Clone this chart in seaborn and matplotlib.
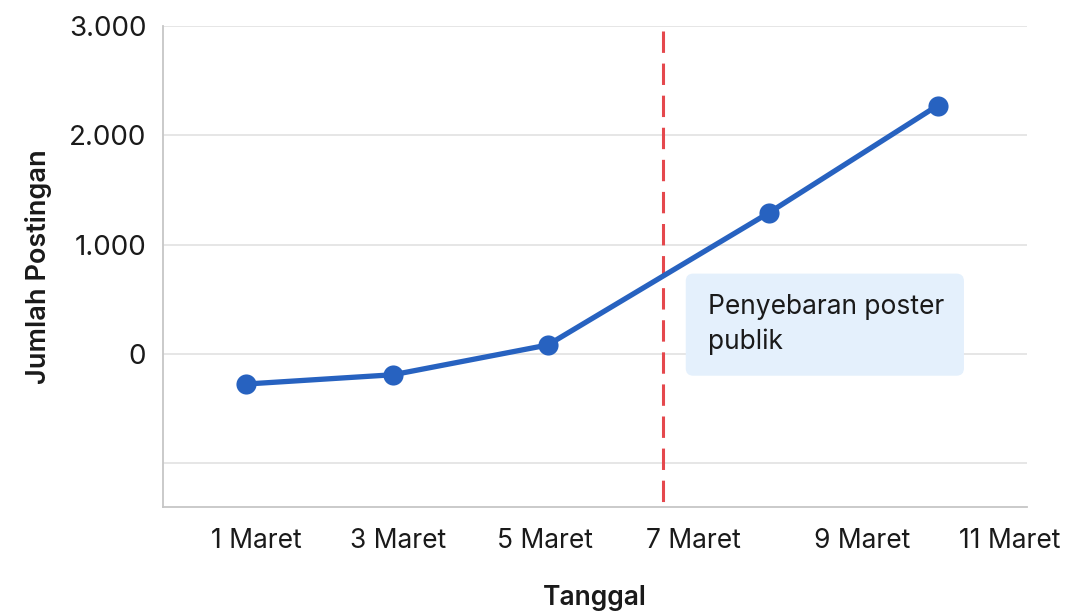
import matplotlib
matplotlib.use("Agg")
import matplotlib.pyplot as plt
import seaborn as sns
import pandas as pd
from matplotlib.patches import FancyBboxPatch

# ---- data (x positions in "day" units) ----
point_day = [0.87, 2.82, 4.87, 7.80, 10.04]
posts = [-275, -190, 82, 1290, 2272]
tick_day = [1.0, 2.88, 4.83, 6.80, 9.04, 11.0]
tick_labels = ["1 Maret", "3 Maret", "5 Maret", "7 Maret", "9 Maret", "11 Maret"]
y_ticks = [-1000, 0, 1000, 2000, 3000]
y_tick_labels = ["", "0", "1.000", "2.000", "3.000"]
event_day = 6.40
event_text = "Penyebaran poster\npublik"

df = pd.DataFrame({"Tanggal": point_day, "Jumlah Postingan": posts})

sns.set_theme(style="white")
plt.rcParams["font.family"] = ["Inter", "DejaVu Sans"]

fig = plt.figure(figsize=(10.67, 6.14), dpi=100)
ax = fig.add_axes([0.1528, 0.1735, 0.8097, 0.7842])

ax.set_xlim(-0.233, 11.226)
ax.set_ylim(-1404, 3000)

ax.set_yticks(y_ticks)
ax.set_yticklabels(y_tick_labels)
ax.yaxis.grid(True, color="#E2E2E2", linewidth=1.2)
ax.xaxis.grid(False)
ax.set_axisbelow(True)

# annotation box
box = FancyBboxPatch((6.70, -199), 10.39 - 6.70, 735 + 199,
                     boxstyle="round,pad=0,rounding_size=0.1",
                     mutation_aspect=686,
                     facecolor="#E4F0FC", edgecolor="none",
                     transform=ax.transData, zorder=1.5)
ax.add_patch(box)
ax.text(6.99, 545, event_text, fontsize=19, color="#1A1A1A",
        va="top", ha="left", linespacing=1.42, zorder=3)

ax.plot([event_day, event_day], [2958, -1404], color="#E5484D",
        linewidth=2.2, linestyle=(0, (7, 3.5)), zorder=2)

sns.lineplot(data=df, x="Tanggal", y="Jumlah Postingan", ax=ax,
             color="#2762C0", linewidth=3.8, marker="o", markersize=14.5,
             markeredgewidth=0, zorder=4)

ax.set_xticks(tick_day)
ax.set_xticklabels(tick_labels)
ax.tick_params(axis="x", labelsize=19, pad=15, length=0, colors="#1A1A1A")
ax.tick_params(axis="y", labelsize=20, pad=12, length=0, colors="#1A1A1A")

ax.set_xlabel("Tanggal", fontsize=19, fontweight="semibold", color="#1A1A1A", labelpad=22)
ax.set_ylabel("Jumlah Postingan", fontsize=19.5, fontweight="semibold", color="#1A1A1A", labelpad=12)

for s in ["top", "right"]:
    ax.spines[s].set_visible(False)
for s in ["left", "bottom"]:
    ax.spines[s].set_color("#C6C6C6")
    ax.spines[s].set_linewidth(1.3)

fig.savefig("out.png", dpi=100)
